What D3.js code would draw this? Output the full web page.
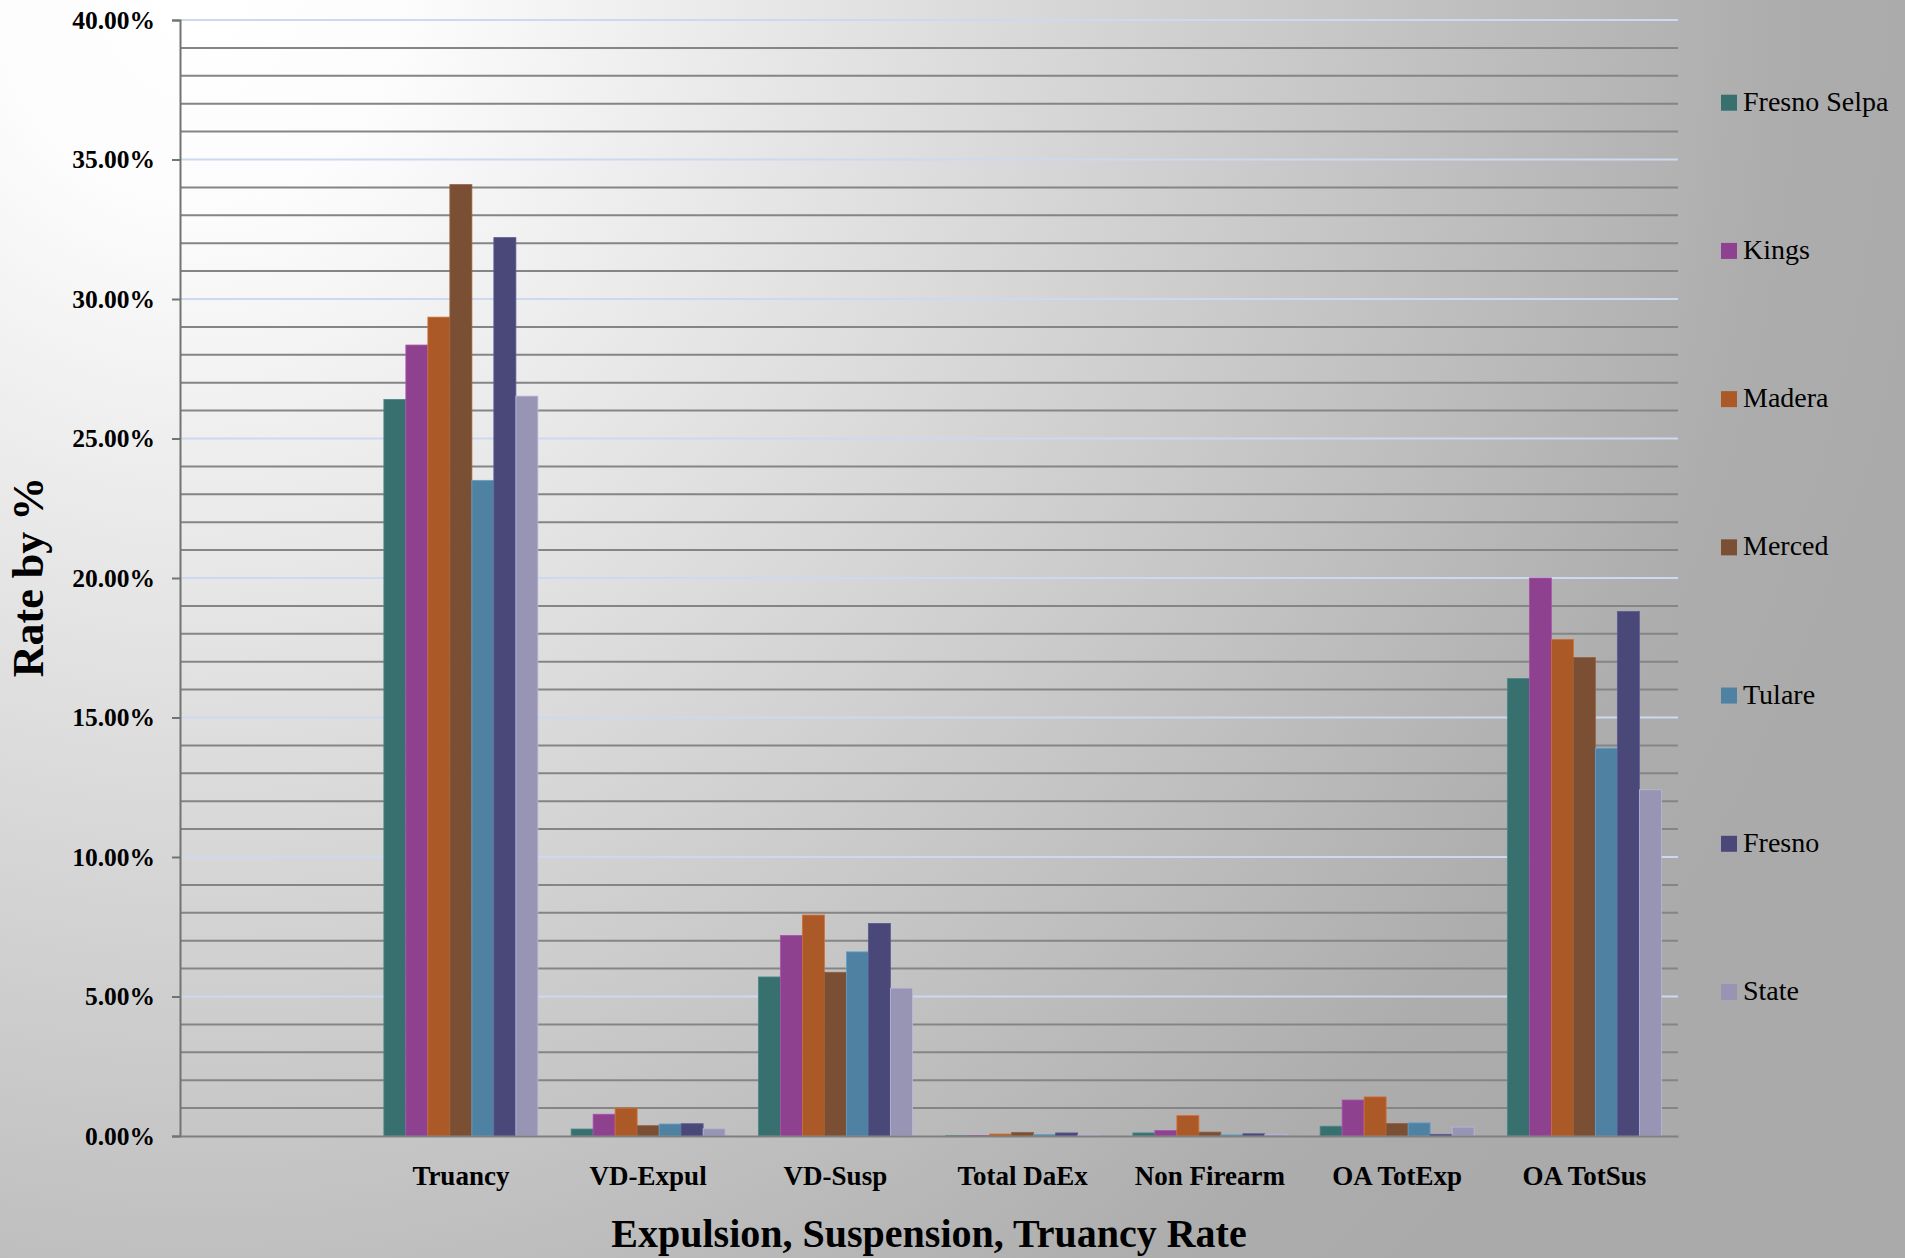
<!DOCTYPE html>
<html>
<head>
<meta charset="utf-8">
<script src="https://cdn.jsdelivr.net/npm/d3@7"></script>
<style>
  html, body { margin: 0; padding: 0; overflow: hidden; }
  svg { display: block; }
  text { font-family: "Liberation Serif", "Times New Roman", serif; fill: #000; }
</style>
</head>
<body>
<svg id="chart" width="1905" height="1258"></svg>
<script>
// Categories (first slot is left blank on the axis)
const categories = ["", "Truancy", "VD-Expul", "VD-Susp", "Total DaEx", "Non Firearm", "OA TotExp", "OA TotSus"];

// Rates in percent, one array per region
const fresnoSelpa = [null, 26.40, 0.25, 5.70, 0.01, 0.11, 0.35, 16.40];
const kings       = [null, 28.35, 0.78, 7.19, 0.02, 0.20, 1.29, 20.00];
const madera      = [null, 29.35, 1.00, 7.92, 0.07, 0.73, 1.40, 17.80];
const merced      = [null, 34.10, 0.37, 5.87, 0.13, 0.14, 0.45, 17.15];
const tulare      = [null, 23.50, 0.43, 6.60, 0.05, 0.04, 0.47, 13.90];
const fresno      = [null, 32.20, 0.44, 7.62, 0.11, 0.08, 0.06, 18.80];
const state       = [null, 26.52, 0.26, 5.30, 0.03, 0.06, 0.32, 12.41];

const seriesNames = ["Fresno Selpa", "Kings", "Madera", "Merced", "Tulare", "Fresno", "State"];
const seriesValues = [fresnoSelpa, kings, madera, merced, tulare, fresno, state];
const seriesColors = ["#38706f", "#8d418e", "#ac5928", "#7a4f33", "#4f82a2", "#4a4878", "#9794b4"];

// Y axis tick values (percent)
const yTicks = [0, 5, 10, 15, 20, 25, 30, 35, 40];

const svg = d3.select("#chart");
const W = 1905, H = 1258;
const plot = { left: 180, right: 1678, top: 20, bottom: 1136 };

// Background: soft radial fade from white at the top left to grey
const defs = svg.append("defs");
const bg = defs.append("radialGradient")
  .attr("id", "bgGrad")
  .attr("gradientUnits", "userSpaceOnUse")
  .attr("cx", 200).attr("cy", 0).attr("r", 1750);
bg.append("stop").attr("offset", 0).attr("stop-color", "#ffffff");
bg.append("stop").attr("offset", 0.12).attr("stop-color", "#fcfcfc");
bg.append("stop").attr("offset", 0.9).attr("stop-color", "#adadad");
bg.append("stop").attr("offset", 1).attr("stop-color", "#aaaaaa");
svg.append("rect").attr("width", W).attr("height", H).attr("fill", "url(#bgGrad)");

const y = d3.scaleLinear().domain([0, 40]).range([plot.bottom, plot.top]);
const x = d3.scaleBand().domain(categories.map((c, i) => i)).range([plot.left, plot.right]).padding(0);
const xs = d3.scaleBand().domain(seriesNames).range([0, x.bandwidth()]).paddingInner(0).paddingOuter(0.756);

// Gridlines: minor every 1%, major every 5%
const grid = svg.append("g");
const minor = d3.range(1, 40).filter(v => v % 5 !== 0);
grid.selectAll("line.minor").data(minor).join("line")
  .attr("class", "minor")
  .attr("x1", plot.left).attr("x2", plot.right)
  .attr("y1", d => y(d)).attr("y2", d => y(d))
  .attr("stroke", "#858585").attr("stroke-width", 2);
grid.selectAll("line.major").data(yTicks.filter(v => v > 0)).join("line")
  .attr("class", "major")
  .attr("x1", plot.left).attr("x2", plot.right)
  .attr("y1", d => y(d)).attr("y2", d => y(d))
  .attr("stroke", "#ccd9f1").attr("stroke-width", 2);

// Bars
const bars = svg.append("g");
seriesNames.forEach((name, si) => {
  const vals = seriesValues[si].map((v, ci) => ({ v, ci })).filter(d => d.v !== null);
  const col = seriesColors[si];
  bars.selectAll(null).data(vals).join("rect")
    .attr("x", d => x(d.ci) + xs(name))
    .attr("width", xs.bandwidth())
    .attr("y", d => y(d.v))
    .attr("height", d => y(0) - y(d.v))
    .attr("fill", col)
    .attr("stroke", d3.color(col).brighter(0.6))
    .attr("stroke-width", 0.8);
});

// Y axis
const yAxis = d3.axisLeft(y).tickValues(yTicks).tickSize(8).tickPadding(17)
  .tickFormat(d => d.toFixed(2) + "%");
const gy = svg.append("g").attr("transform", `translate(${plot.left},0)`).call(yAxis);
gy.select(".domain").attr("stroke", "#737373").attr("stroke-width", 2);
gy.selectAll(".tick line").attr("stroke", "#737373").attr("stroke-width", 2);
gy.selectAll(".tick text")
  .attr("font-family", "Liberation Serif, serif")
  .attr("font-size", 25.5).attr("font-weight", "bold").attr("fill", "#000");

// X axis
const xAxis = d3.axisBottom(x).tickSize(0).tickPadding(38).tickFormat(i => categories[i]);
const gx = svg.append("g").attr("transform", `translate(0,${plot.bottom})`).call(xAxis);
gx.select(".domain").attr("stroke", "#808080").attr("stroke-width", 2);
gx.selectAll(".tick text")
  .attr("font-family", "Liberation Serif, serif")
  .attr("font-size", 27).attr("font-weight", "bold").attr("fill", "#000")
  .attr("dy", "0")
  .attr("y", 49);

// Axis titles
svg.append("text")
  .attr("x", (plot.left + plot.right) / 2).attr("y", 1247)
  .attr("text-anchor", "middle")
  .attr("font-size", 40).attr("font-weight", "bold")
  .text("Expulsion, Suspension, Truancy Rate");

svg.append("text")
  .attr("transform", "translate(43,577) rotate(-90)")
  .attr("text-anchor", "middle")
  .attr("font-size", 44).attr("font-weight", "bold")
  .text("Rate by %");

// Legend
const legend = svg.append("g");
const legY = d3.scalePoint().domain(seriesNames).range([102.7, 992]);
seriesNames.forEach((name, i) => {
  const g = legend.append("g").attr("transform", `translate(1721,${legY(name)})`);
  g.append("rect").attr("x", 0).attr("y", -8).attr("width", 16).attr("height", 16)
    .attr("fill", seriesColors[i]);
  g.append("text").attr("x", 22).attr("y", 8)
    .attr("font-size", 28).attr("fill", "#111").text(name);
});
</script>
</body>
</html>
